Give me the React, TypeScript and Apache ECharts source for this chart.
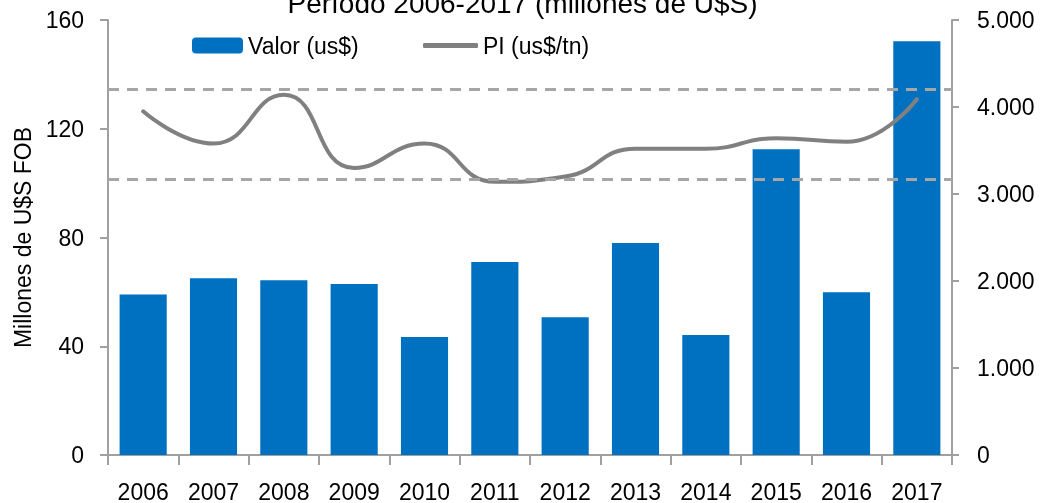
import React, { useEffect, useRef } from "react";
import * as echarts from "echarts";

const years = ["2006", "2007", "2008", "2009", "2010", "2011", "2012", "2013", "2014", "2015", "2016", "2017"];
const valor = [59, 65, 64.3, 62.9, 43.4, 71, 50.7, 78, 44.1, 112.5, 59.9, 152.2];
const precio = [3950, 3580, 4140, 3300, 3580, 3140, 3200, 3520, 3520, 3640, 3600, 4090];
const bandas = [4200, 3170];
const titulo = "Período 2006-2017 (millones de U$S)";
const FONT = "Liberation Sans, Arial, sans-serif";

function fmtMiles(v: number): string {
  const s = Math.round(v).toString();
  return s.replace(/\B(?=(\d{3})+(?!\d))/g, ".");
}

export default function App() {
  const ref = useRef<HTMLDivElement>(null);
  useEffect(() => {
    if (!ref.current) return;
    const chart = echarts.init(ref.current, undefined, { renderer: "svg" });
    const axisGray = "#A0A0A0";
    const txt = { fontSize: 23, color: "#000", fontFamily: FONT };
    chart.setOption({
      animation: false,
      textStyle: { fontFamily: FONT },
      title: {
        text: titulo,
        left: "center",
        top: -16,
        textStyle: { ...txt, fontSize: 28, fontWeight: "normal" },
      },
      legend: [
        {
          data: ["Valor (us$)"],
          left: 187,
          top: 29,
          itemWidth: 51,
          itemHeight: 16,
          textStyle: txt,
        },
        {
          data: [{ name: "PI (us$/tn)", icon: "roundRect" }],
          left: 418,
          top: 29,
          itemWidth: 55,
          itemHeight: 5,
          textStyle: txt,
        },
      ],
      grid: { left: 108, right: 93, top: 20, bottom: 48, outerBoundsMode: "none", containLabel: false },
      xAxis: {
        type: "category",
        data: years,
        axisLine: { lineStyle: { color: axisGray, width: 2 } },
        axisTick: { show: true, length: 10, lineStyle: { color: axisGray, width: 2 } },
        axisLabel: { ...txt, margin: 25 },
      },
      yAxis: [
        {
          type: "value",
          min: 0,
          max: 160,
          interval: 40,
          name: "Millones de U$S FOB",
          nameLocation: "middle",
          nameGap: 74,
          nameTextStyle: txt,
          axisLine: { show: true, lineStyle: { color: axisGray, width: 2 } },
          axisTick: { show: true, length: 8, lineStyle: { color: axisGray, width: 2 } },
          splitLine: { show: false },
          axisLabel: { ...txt, margin: 24 },
        },
        {
          type: "value",
          min: 0,
          max: 5000,
          interval: 1000,
          position: "right",
          axisLine: { show: true, lineStyle: { color: axisGray, width: 2 } },
          axisTick: { show: true, length: 7, lineStyle: { color: axisGray, width: 2 } },
          splitLine: { show: false },
          axisLabel: {
            ...txt,
            margin: 25,
            formatter: (v: number) => fmtMiles(v),
          },
        },
      ],
      series: [
        {
          name: "Valor (us$)",
          type: "bar",
          data: valor,
          yAxisIndex: 0,
          barCategoryGap: "33%",
          itemStyle: { color: "#0070C0" },
        },
        {
          name: "PI (us$/tn)",
          type: "line",
          data: precio,
          yAxisIndex: 1,
          smooth: 0.5,
          symbol: "none",
          lineStyle: { color: "#808080", width: 4, cap: "round" },
          itemStyle: { color: "#808080" },
          markLine: {
            silent: true,
            symbol: "none",
            label: { show: false },
            lineStyle: { color: "#A6A6A6", width: 3, type: [11, 8] },
            data: bandas.map((b) => ({ yAxis: b })),
          },
        },
      ],
    });
    return () => chart.dispose();
  }, []);
  return (
    <div
      ref={ref}
      style={{ position: "fixed", left: 0, top: 0, width: 1045, height: 503 }}
    />
  );
}
